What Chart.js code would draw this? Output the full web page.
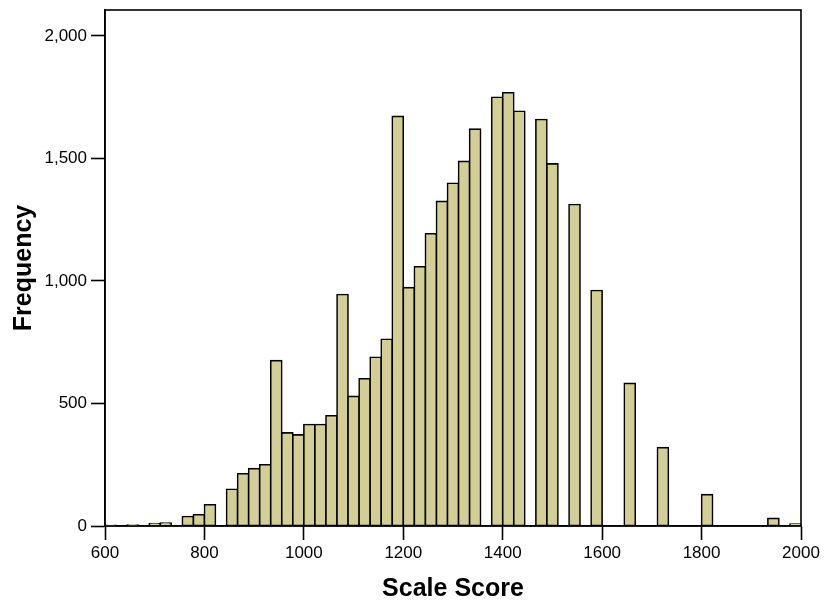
<!DOCTYPE html>
<html>
<head>
<meta charset="utf-8">
<title>Scale Score histogram</title>
<script src="https://cdn.jsdelivr.net/npm/chart.js@4/dist/chart.umd.min.js"></script>
<style>
  html, body { margin: 0; padding: 0; background: #ffffff; }
  #wrap { width: 825px; height: 604px; position: relative; }
</style>
</head>
<body>
<div id="wrap"><canvas id="chart" width="825" height="604"></canvas></div>
<script>
// Histogram bins: 63 equal bins of 200/9 score points between 600 and 2000
const binStart = 600;
const binWidth = 200 / 9;

// Frequency in each bin, lowest score first (0 = empty bin)
const frequencies = [
  3, 0, 4, 0, 10, 12, 0, 39, 46, 87,
  0, 150, 213, 234, 250, 675, 380, 372, 414, 414,
  450, 945, 529, 601, 689, 762, 1672, 973, 1058, 1193,
  1325, 1399, 1488, 1620, 0, 1750, 1768, 1693, 0, 1659,
  1478, 0, 1312, 0, 961, 0, 0, 582, 0, 0,
  320, 0, 0, 0, 128, 0, 0, 0, 0, 0,
  31, 0, 8
];

// Axis tick values
const xTicks = [600, 800, 1000, 1200, 1400, 1600, 1800, 2000];
const yTicks = [0, 500, 1000, 1500, 2000];

const binCenters = frequencies.map((_, i) => binStart + (i + 0.5) * binWidth);
const points = frequencies.map((f, i) => ({ x: binCenters[i], y: f > 0 ? f : null }));

const FONT = "'Liberation Sans', Arial, sans-serif";

// Black box around the plotting area
const frame = {
  id: 'frame',
  afterDatasetsDraw(chart) {
    const { ctx, chartArea: a } = chart;
    ctx.save();
    ctx.strokeStyle = '#000';
    ctx.lineWidth = 1.6;
    ctx.strokeRect(a.left, a.top, a.right - a.left, a.bottom - a.top);
    ctx.restore();
  }
};

new Chart(document.getElementById('chart'), {
  type: 'bar',
  data: {
    datasets: [{
      label: 'Frequency',
      data: points,
      backgroundColor: 'rgb(211,206,152)',
      borderColor: '#000',
      borderWidth: 1.6,
      borderSkipped: false,
      inflateAmount: 0.8,
      barPercentage: 1.0,
      categoryPercentage: 1.0
    }]
  },
  options: {
    responsive: false,
    animation: false,
    events: [],
    layout: { padding: { left: 0, right: 24, top: 10, bottom: 0 } },
    plugins: {
      legend: { display: false },
      tooltip: { enabled: false }
    },
    scales: {
      x: {
        type: 'linear',
        min: 600,
        max: 2000,
        offset: false,
        afterFit(scale) { scale.height = 78; },
        afterBuildTicks(scale) { scale.ticks = xTicks.map(v => ({ value: v })); },
        grid: {
          display: true,
          offset: false,
          drawOnChartArea: false,
          drawTicks: true,
          tickLength: 14,
          tickWidth: 1.6,
          tickColor: '#000'
        },
        border: { display: true, color: '#000', width: 1.6 },
        ticks: {
          color: '#000',
          padding: 3,
          maxRotation: 0,
          autoSkip: false,
          font: { family: FONT, size: 17 },
          callback: v => String(v)
        },
        title: {
          display: true,
          text: 'Scale Score',
          color: '#000',
          padding: { top: 0, bottom: 0 },
          font: { family: FONT, size: 25, weight: 'bold' }
        }
      },
      y: {
        min: 0,
        max: 2106,
        afterFit(scale) {
          scale.width = 105;
          scale.paddingTop = 0;
          scale.paddingBottom = 0;
        },
        afterBuildTicks(scale) { scale.ticks = yTicks.map(v => ({ value: v })); },
        grid: {
          display: true,
          drawOnChartArea: false,
          drawTicks: true,
          tickLength: 14,
          tickWidth: 1.6,
          tickColor: '#000'
        },
        border: { display: true, color: '#000', width: 1.6 },
        ticks: {
          color: '#000',
          padding: 4,
          font: { family: FONT, size: 17, lineHeight: 0.8 },
          callback: v => Number(v).toLocaleString('en-US')
        },
        title: {
          display: true,
          text: 'Frequency',
          color: '#000',
          padding: { top: 9, bottom: 0 },
          font: { family: FONT, size: 25, weight: 'bold' }
        }
      }
    }
  },
  plugins: [frame]
});
</script>
</body>
</html>
